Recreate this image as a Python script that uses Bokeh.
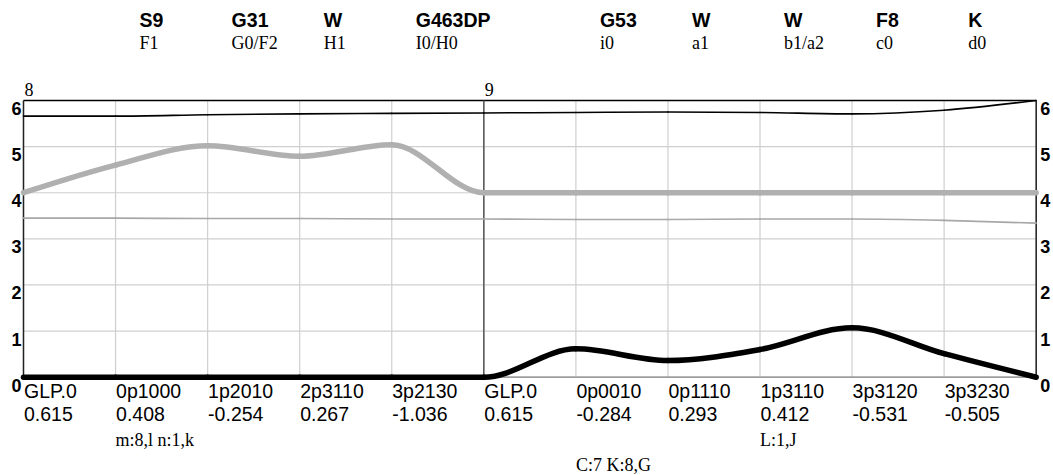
from bokeh.plotting import figure
from bokeh.models import Range1d
from bokeh.core.properties import value
from bokeh.embed import file_html
from bokeh.resources import INLINE

# ---------------- data ----------------
x_idx = list(range(12))
thin_black = [5.66, 5.66, 5.69, 5.71, 5.72, 5.73, 5.74, 5.75, 5.74, 5.71, 5.79, 6.0]
thick_gray = [4.0, 4.6, 5.02, 4.79, 5.04, 4.0, 4.0, 4.0, 4.0, 4.0, 4.0, 4.0]
thin_gray = [3.45, 3.45, 3.44, 3.44, 3.43, 3.43, 3.42, 3.42, 3.43, 3.43, 3.40, 3.34]
thick_black = [0, 0, 0, 0, 0, 0, 0.615, 0.36, 0.60, 1.07, 0.51, 0.0]

bottom_names = ["GLP.0", "0p1000", "1p2010", "2p3110", "3p2130", "GLP.0",
                "0p0010", "0p1110", "1p3110", "3p3120", "3p3230"]
bottom_vals = ["0.615", "0.408", "-0.254", "0.267", "-1.036", "0.615",
               "-0.284", "0.293", "0.412", "-0.531", "-0.505"]
top_pos = [1, 2, 3, 4, 6, 7, 8, 9, 10]
top_bold = ["S9", "G31", "W", "G463DP", "G53", "W", "W", "F8", "K"]
top_sub = ["F1", "G0/F2", "H1", "I0/H0", "i0", "a1", "b1/a2", "c0", "d0"]
section_pos = [0, 5]
section_labels = ["8", "9"]
note_pos = [1, 8]
note_labels = ["m:8,l n:1,k", "L:1,J"]
note2_pos = [6]
note2_labels = ["C:7 K:8,G"]
y_ticks = [0, 1, 2, 3, 4, 5, 6]

X_MIN, X_MAX = 0, 11
Y_MIN, Y_MAX = 0, 6
DIVIDER = 5

SANS = value("Liberation Sans")
SERIF = value("Liberation Serif")


def monotone_bezier(xs, ys):
    """Monotone-X cubic (as in d3) expressed as Bezier control points."""
    n = len(xs)
    t = [0.0] * n

    def sgn(v):
        return -1 if v < 0 else 1

    for i in range(1, n - 1):
        h0 = xs[i] - xs[i - 1]
        h1 = xs[i + 1] - xs[i]
        s0 = (ys[i] - ys[i - 1]) / h0
        s1 = (ys[i + 1] - ys[i]) / h1
        p = (s0 * h1 + s1 * h0) / (h0 + h1)
        t[i] = (sgn(s0) + sgn(s1)) * min(abs(s0), abs(s1), 0.5 * abs(p))
    h = xs[1] - xs[0]
    t[0] = (3 * (ys[1] - ys[0]) / h - t[1]) / 2
    h = xs[-1] - xs[-2]
    t[-1] = (3 * (ys[-1] - ys[-2]) / h - t[-2]) / 2
    seg = dict(x0=[], y0=[], x1=[], y1=[], cx0=[], cy0=[], cx1=[], cy1=[])
    for i in range(n - 1):
        dx = (xs[i + 1] - xs[i]) / 3
        seg["x0"].append(xs[i]); seg["y0"].append(ys[i])
        seg["x1"].append(xs[i + 1]); seg["y1"].append(ys[i + 1])
        seg["cx0"].append(xs[i] + dx); seg["cy0"].append(ys[i] + dx * t[i])
        seg["cx1"].append(xs[i + 1] - dx); seg["cy1"].append(ys[i + 1] - dx * t[i + 1])
    return seg


p = figure(width=1053, height=475,
           x_range=Range1d(-0.2498, 11.188), y_range=Range1d(-2.131, 8.168),
           output_backend="svg", toolbar_location=None,
           x_axis_location=None, y_axis_location=None,
           min_border=0, outline_line_color=None,
           background_fill_color="white", border_fill_color="white")
p.grid.visible = False

# grid
p.segment(x0=[X_MIN] * len(y_ticks), y0=y_ticks, x1=[X_MAX] * len(y_ticks), y1=y_ticks,
          line_color="#cfcfcf", line_width=1.2)
p.segment(x0=x_idx, y0=[Y_MIN] * len(x_idx), x1=x_idx, y1=[Y_MAX] * len(x_idx),
          line_color="#cfcfcf", line_width=1.2)

# frame
p.segment(x0=[X_MIN], y0=[Y_MIN], x1=[X_MAX], y1=[Y_MIN], line_color="#888888", line_width=1.2)
p.segment(x0=[X_MIN], y0=[Y_MAX], x1=[X_MAX], y1=[Y_MAX], line_color="black", line_width=1.5)
p.segment(x0=[X_MIN, X_MAX], y0=[Y_MIN, Y_MIN], x1=[X_MIN, X_MAX], y1=[Y_MAX, Y_MAX],
          line_color="#222222", line_width=1.5)
p.segment(x0=[DIVIDER], y0=[Y_MIN], x1=[DIVIDER], y1=[Y_MAX], line_color="#555555", line_width=1.5)

# series
for ys, color, width in [(thin_gray, "#a8a8a8", 1.6), (thick_gray, "#b0b0b0", 5.5),
                         (thin_black, "black", 1.6), (thick_black, "black", 5.5)]:
    s = monotone_bezier(x_idx, ys)
    p.bezier(x0=s["x0"], y0=s["y0"], x1=s["x1"], y1=s["y1"],
             cx0=s["cx0"], cy0=s["cy0"], cx1=s["cx1"], cy1=s["cy1"],
             line_color=color, line_width=width, line_cap="round")

# y labels (left and right)
p.text(x=[X_MIN] * len(y_ticks), y=y_ticks, text=[str(v) for v in y_ticks],
       text_font=SANS, text_font_style="bold", text_font_size="18px",
       text_align="right", text_baseline="alphabetic", x_offset=-2, y_offset=8,
       text_color="black")
p.text(x=[X_MAX] * len(y_ticks), y=y_ticks, text=[str(v) for v in y_ticks],
       text_font=SANS, text_font_style="bold", text_font_size="18px",
       text_align="left", text_baseline="alphabetic", x_offset=4, y_offset=8,
       text_color="black")

# bottom labels
p.text(x=x_idx[:len(bottom_names)], y=[Y_MIN] * len(bottom_names), text=bottom_names,
       text_font=SANS, text_font_size="19.5px", text_align="left",
       text_baseline="alphabetic", x_offset=0.5, y_offset=14, text_color="black")
p.text(x=x_idx[:len(bottom_vals)], y=[Y_MIN] * len(bottom_vals), text=bottom_vals,
       text_font=SANS, text_font_size="19.5px", text_align="left",
       text_baseline="alphabetic", x_offset=0.5, y_offset=37, text_color="black")
p.text(x=note_pos, y=[Y_MIN] * len(note_pos), text=note_labels,
       text_font=SERIF, text_font_size="18px", text_align="left",
       text_baseline="alphabetic", x_offset=0, y_offset=63, text_color="black")
p.text(x=note2_pos, y=[Y_MIN] * len(note2_pos), text=note2_labels,
       text_font=SERIF, text_font_size="18px", text_align="left",
       text_baseline="alphabetic", x_offset=0, y_offset=88, text_color="black")

# top labels
p.text(x=top_pos, y=[Y_MAX] * len(top_pos), text=top_bold,
       text_font=SANS, text_font_style="bold", text_font_size="19.5px", text_align="left",
       text_baseline="alphabetic", x_offset=24, y_offset=-80, text_color="black")
p.text(x=top_pos, y=[Y_MAX] * len(top_pos), text=top_sub,
       text_font=SERIF, text_font_size="18px", text_align="left",
       text_baseline="alphabetic", x_offset=24, y_offset=-57.5, text_color="black")
p.text(x=section_pos, y=[Y_MAX] * len(section_pos), text=section_labels,
       text_font=SERIF, text_font_size="18px", text_align="left",
       text_baseline="alphabetic", x_offset=1, y_offset=-11, text_color="black")

open("out.html", "w").write(file_html(p, INLINE))
